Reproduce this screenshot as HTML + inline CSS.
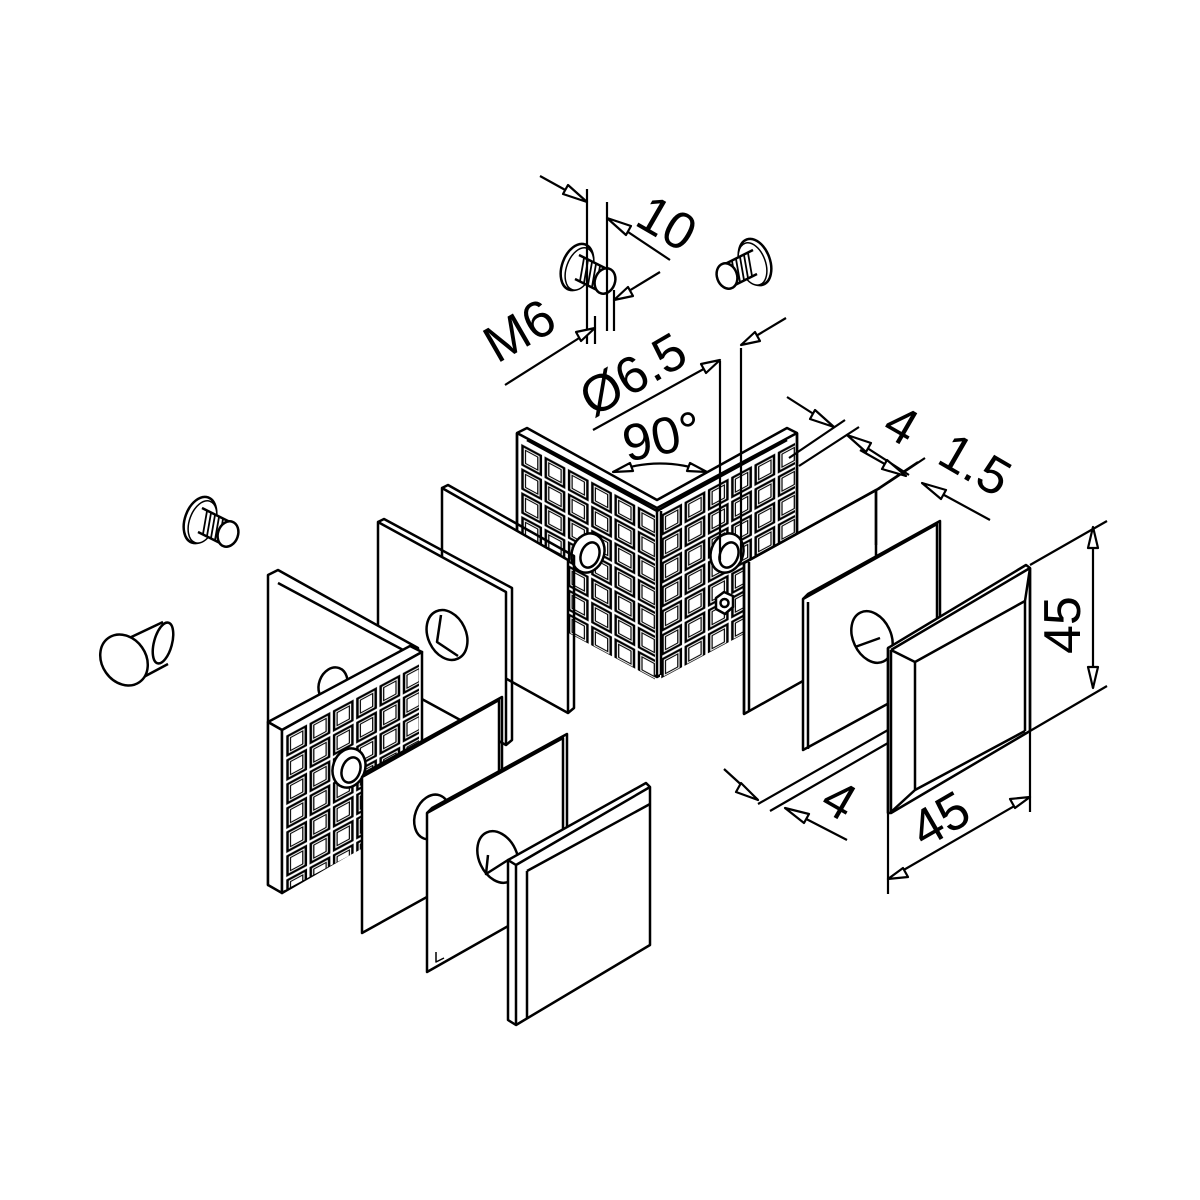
<!DOCTYPE html>
<html><head><meta charset="utf-8"><style>html,body{margin:0;padding:0;background:#fff}svg{display:block}text{font-family:"Liberation Sans",sans-serif;fill:#000}</style></head><body>
<svg width="1200" height="1200" viewBox="0 0 1200 1200" xmlns="http://www.w3.org/2000/svg">
<defs>
<pattern id="g" width="23.3" height="24" patternUnits="userSpaceOnUse">
<rect x="0" y="0" width="23.3" height="24" fill="#fff"/>
<rect x="2.5" y="2.5" width="18.3" height="19" fill="none" stroke="#000" stroke-width="2.5"/>
<rect x="5.5" y="5.5" width="12.3" height="13" fill="none" stroke="#000" stroke-width="1.2"/>
</pattern>
<g id="screw">
<ellipse cx="0" cy="0" rx="15" ry="24" transform="rotate(20)" fill="#fff" stroke="#000" stroke-width="2.5"/>
<ellipse cx="3" cy="1" rx="13" ry="22" transform="rotate(20)" fill="#fff" stroke="#000" stroke-width="1.5"/>
<path d="M2,-12 L30,2 L26,26 L-2,12 Z" fill="#fff" stroke="none"/>
<path d="M2,-12 L30,2 M-2,12 L26,26" stroke="#000" stroke-width="2.5" fill="none"/>
<path d="M7,-9 L3,14 M11,-7 L7,16 M15,-5 L11,18 M19,-3 L15,20 M23,-1 L19,22" stroke="#000" stroke-width="1.8"/>
<ellipse cx="28" cy="14" rx="10" ry="13" transform="rotate(20 28 14)" fill="#fff" stroke="#000" stroke-width="2.5"/>
</g>
</defs>
<g fill="none" stroke="#000" stroke-width="2.5" stroke-linejoin="round">

<use href="#screw" x="577" y="267"/>
<use href="#screw" transform="translate(755,262) scale(-1,1)"/>
<use href="#screw" x="200" y="520"/>
<!-- rivet -->
<path d="M125,640 L165,622 L170,662 L138,680 Z" fill="#fff" stroke="none"/>
<path d="M125,640 L163,622 M138,680 L168,664" />
<ellipse cx="163" cy="643" rx="9" ry="21" transform="rotate(15 163 643)" fill="#fff"/>
<ellipse cx="124" cy="660" rx="22" ry="27" transform="rotate(-35 124 660)" fill="#fff"/>

<!-- top bracket -->
<polygon points="517,433 527,428 657,500 787,428 797,433 797,600 657,677 517,600" fill="#fff"/>
<path d="M517,433 L657,508 L797,433 M527,440 L657,511 L787,440"/>
<g transform="matrix(1,0.536,0,1,520,442)"><rect x="0" y="0" width="135" height="165" fill="url(#g)" stroke="none"/></g>
<g transform="matrix(1,-0.536,0,1,660,514)"><rect x="0" y="0" width="135" height="165" fill="url(#g)" stroke="none"/></g>
<path d="M657,508 L657,677 M661,511 L661,675 M517,433 L517,600 M797,433 L797,600"/>
<ellipse cx="588" cy="553" rx="16" ry="20" transform="rotate(20 588 553)" fill="#fff" stroke-width="2.5"/>
<ellipse cx="590" cy="555" rx="9" ry="13" transform="rotate(20 590 555)" stroke-width="2.5"/>
<ellipse cx="727" cy="553" rx="16" ry="20" transform="rotate(20 727 553)" fill="#fff" stroke-width="2.5"/>
<ellipse cx="729" cy="555" rx="9" ry="13" transform="rotate(20 729 555)" stroke-width="2.5"/>
<polygon points="716,598 724,592 733,596 733,607 725,614 716,609" fill="#fff" stroke-width="2.5"/>
<circle cx="724.5" cy="603" r="4"/>

<ellipse cx="503" cy="595" rx="18" ry="23" transform="rotate(20 503 595)" fill="#fff"/>
<ellipse cx="808" cy="603" rx="16" ry="23" transform="rotate(20 808 603)" fill="#fff"/>

<!-- plate 440 -->
<polygon points="442,488 568,560 568,713 442,643" fill="#fff"/>
<path d="M442,488 L448,485 L574,556 L574,708 L568,713"/>
<!-- plate 378 -->
<polygon points="378,522 506,592 506,745 378,675" fill="#fff"/>
<path d="M378,522 L384,519 L512,588 L512,740 L506,745"/>
<ellipse cx="447" cy="635" rx="19" ry="26" transform="rotate(-25 447 635)" fill="#fff" stroke-width="2.5"/>
<path d="M441,615 L437,642 L458,656"/>

<!-- lower-left bracket -->
<polygon points="268,575 278,570 418,648 418,812 268,885" fill="#fff"/>
<path d="M278,583 L405,651"/>
<ellipse cx="333" cy="685" rx="14" ry="18" transform="rotate(20 333 685)" fill="#fff"/>
<polygon points="268,722 410,646 422,652 282,730" fill="#fff"/>
<polygon points="268,722 282,730 282,893 268,885" fill="#fff"/>
<polygon points="282,730 422,652 422,812 282,893" fill="#fff"/>
<g transform="matrix(1,-0.536,0,1,285,735)"><rect x="0" y="0" width="134" height="155" fill="url(#g)" stroke="none"/></g>
<ellipse cx="349" cy="768" rx="16" ry="20" transform="rotate(20 349 768)" fill="#fff" stroke-width="2.5"/>
<ellipse cx="351" cy="770" rx="9" ry="13" transform="rotate(20 351 770)" stroke-width="2.5"/>

<!-- plate A -->
<polygon points="362,777 499,700 499,857 362,933" fill="#fff"/>
<path d="M362,777 L366,772 L502,697 L502,855 L499,857"/>
<ellipse cx="432" cy="817" rx="17" ry="23" transform="rotate(20 432 817)" fill="#fff"/>
<!-- plate B -->
<polygon points="427,813 563,738 563,895 427,972" fill="#fff"/>
<path d="M427,813 L432,808 L567,734 L567,893 L563,895"/>
<ellipse cx="498" cy="857" rx="19" ry="27" transform="rotate(-25 498 857)" fill="#fff" stroke-width="2.5"/>
<path d="M488,855 L486,874 L508,860"/>
<path d="M436,952 L436,962 L444,958" stroke-width="1.5"/>
<!-- cap C -->
<polygon points="508,860 646,783 650,787 650,945 516,1025 508,1020" fill="#fff"/>
<path d="M516,865 L650,787 M516,865 L516,1025 M508,860 L516,865 M527,871 L527,1019 M527,871 L650,804"/>

<!-- right plates -->
<polygon points="744,563 876,490 876,640 744,714" fill="#fff"/>
<path d="M744,563 L744,714 M749,562 L749,712 M744,563 L880,488 M876,490 L876,545"/>
<polygon points="803,599 937,524 937,677 803,750" fill="#fff"/>
<path d="M803,599 L808,594 L940,521 L940,676 L937,677 M808,602 L808,749"/>
<ellipse cx="872" cy="637" rx="19" ry="27" transform="rotate(-25 872 637)" fill="#fff" stroke-width="2.5"/>
<path d="M855,647 L880,638"/>
<!-- cap R3 -->
<polygon points="888,648 1026,565 1030,568 1030,731 891,813 888,813" fill="#fff"/>
<path d="M888,648 L888,813 M891,650 L891,812 M891,650 L1030,568 M891,650 L915,662 L1025,601 L1030,568 M915,662 L915,790 L1025,731 M891,812 L915,790 M1025,601 L1025,731 M1030,568 L1030,731"/>

<!-- dimension lines -->
<g stroke-width="2.2">
<path d="M587,189 L587,344 M607,202 L607,331"/>
<path d="M540,176 L587,202 M607,218 L670,260"/>
<path d="M587,202 L568,185 L563,194 Z M607,218 L626,235 L631,226 Z" fill="#fff"/>
<path d="M595,316 L595,344 M614,290 L614,331"/>
<path d="M505,385 L595,328 M614,300 L660,272"/>
<path d="M595,328 L576,332 L581,341 Z M614,300 L633,296 L628,287 Z" fill="#fff"/>
<path d="M720,361 L720,560 M741,348 L741,560"/>
<path d="M593,430 L720,360 M741,345 L786,318"/>
<path d="M720,360 L701,364 L706,373 Z M741,345 L760,341 L755,332 Z" fill="#fff"/>
<path d="M613,472 Q660,455 707,472"/>
<path d="M613,472 L630,463 L633,471 Z M707,472 L690,463 L687,471 Z" fill="#fff"/>
<path d="M789,458 L845,420 M799,466 L859,427"/>
<path d="M787,397 L834,427 M909,475 L847,435"/>
<path d="M834,427 L815,410 L810,419 Z M847,435 L866,452 L871,443 Z" fill="#fff"/>
<path d="M876,490 L918,462 M880,488 L925,458"/>
<path d="M860,450 L906,476 M990,520 L922,483"/>
<path d="M906,476 L887,460 L882,469 Z M922,483 L941,499 L946,490 Z" fill="#fff"/>
<path d="M1030,565 L1107,521 M1030,731 L1107,686 M1093,527 L1093,688"/>
<path d="M1093,527 L1088,548 L1098,548 Z M1093,688 L1088,667 L1098,667 Z" fill="#fff"/>
<path d="M888,813 L888,894 M1030,731 L1030,812 M888,879 L1030,797"/>
<path d="M888,879 L908,877 L903,868 Z M1030,797 L1010,799 L1015,808 Z" fill="#fff"/>
<path d="M758,804 L888,730 M770,811 L888,743"/>
<path d="M724,769 L758,800 M847,840 L785,808"/>
<path d="M758,800 L741,783 L736,792 Z M785,808 L804,823 L809,814 Z" fill="#fff"/>
</g>
</g>

<g font-size="52">
<text transform="translate(633,224) rotate(30)">10</text>
<text transform="translate(497,364) rotate(-30)">M6</text>
<text transform="translate(593,418) rotate(-30)">Ø6.5</text>
<text transform="translate(627,462) rotate(-12)">90°</text>
<text transform="translate(880,433) rotate(30)">4</text>
<text transform="translate(935,462) rotate(30)">1.5</text>
<text transform="translate(1080,654) rotate(-90)">45</text>
<text transform="translate(924,849) rotate(-30)">45</text>
<text transform="translate(818,808) rotate(30)">4</text>
</g>
</svg>
</body></html>
